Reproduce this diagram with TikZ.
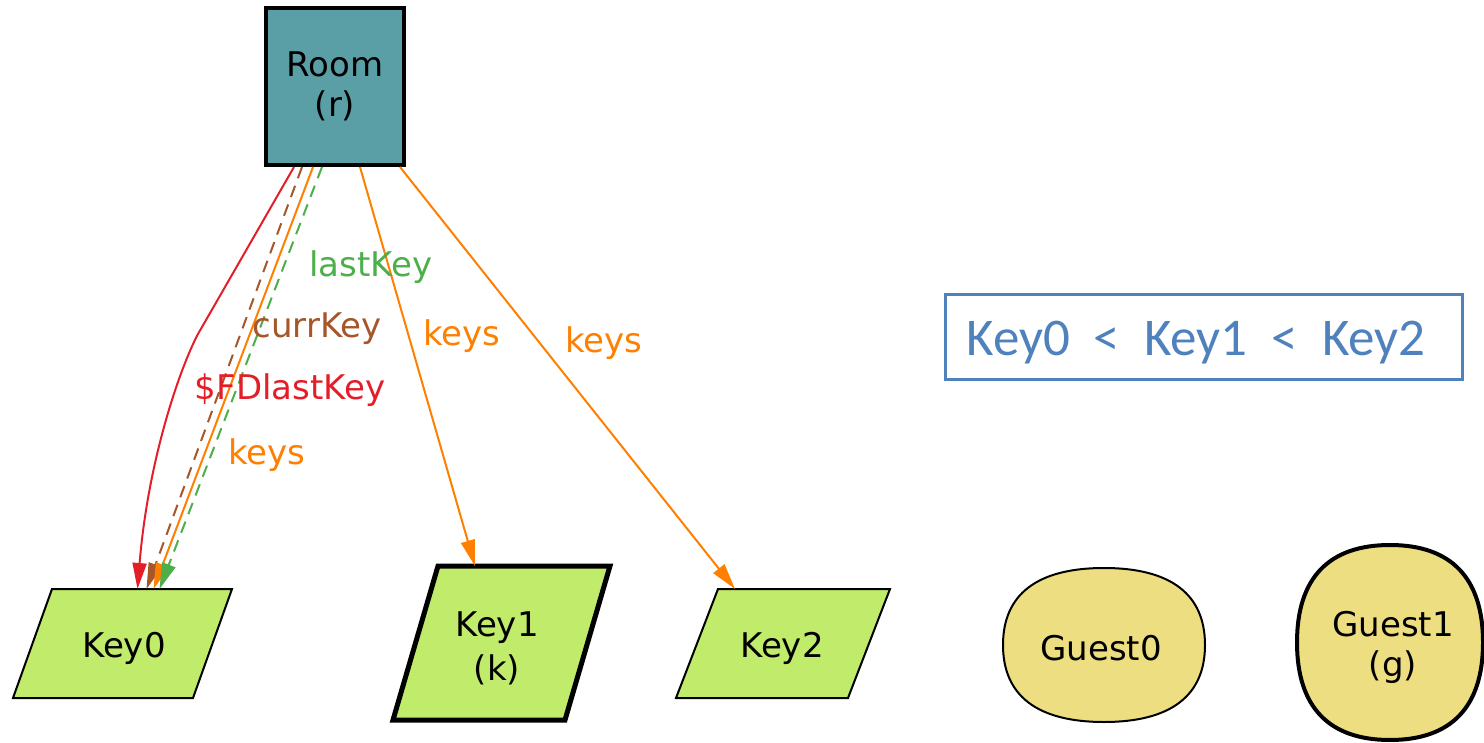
\documentclass[tikz,border=0pt]{standalone}
\usepackage{fontspec}
\setmainfont{DejaVu Sans}
\newfontfamily\boxfont{Carlito}
\usetikzlibrary{arrows.meta,calc,backgrounds}
\definecolor{roomfill}{RGB}{90,158,166}
\definecolor{keyfill}{RGB}{192,235,107}
\definecolor{guestfill}{RGB}{237,222,130}
\definecolor{ered}{RGB}{228,30,40}
\definecolor{ebrown}{RGB}{166,86,40}
\definecolor{eorange}{RGB}{255,127,0}
\definecolor{egreen}{RGB}{77,175,74}
\definecolor{noteblue}{RGB}{79,129,189}
\tikzset{
  lbl/.style={font=\fontsize{17}{20}\selectfont, inner sep=0pt, anchor=base},
  ntext/.style={font=\fontsize{17}{20}\selectfont, align=center, inner sep=0pt},
  shapebox/.style={inner sep=0pt, outer sep=0pt},
  keypoly/.style={draw=black, fill=keyfill, line width=1pt, line join=miter},
  guestpoly/.style={draw=black, fill=guestfill, line width=1pt},
  edge/.style={line width=1pt, -{Triangle[length=13pt,width=7pt]}},
  dashedge/.style={edge, dash pattern=on 6pt off 4pt}
}
\begin{document}
\begin{tikzpicture}[x=0.5pt,y=-0.5pt]
\useasboundingbox (0,0) rectangle (1484,743);

% Room
\node[ntext, draw=black, line width=2pt, fill=roomfill,
      minimum width=69pt, minimum height=78.5pt] (room) at (335,86.5) {Room\\(r)};

% Key shapes (anchor boxes) and their texts
\node[shapebox, minimum width=109.5pt, minimum height=54.5pt] (k0) at (122.5,643.5) {};
\node[shapebox, minimum width=108.5pt, minimum height=77pt] (k1) at (501.5,643) {};
\node[shapebox, minimum width=107pt, minimum height=54.5pt] (k2) at (783,643.5) {};
\draw[keypoly] ($(k0.north west)+(39,0)$) -- (k0.north east) -- ($(k0.south east)+(-39,0)$) -- (k0.south west) -- cycle;
\draw[keypoly, line width=2.5pt] ($(k1.north west)+(45,0)$) -- (k1.north east) -- ($(k1.south east)+(-45,0)$) -- (k1.south west) -- cycle;
\draw[keypoly] ($(k2.north west)+(42,0)$) -- (k2.north east) -- ($(k2.south east)+(-42,0)$) -- (k2.south west) -- cycle;
\node[ntext] (k0t) at (124,648.6) {Key0};
\node[ntext, font=\fontsize{17}{22}\selectfont] (k1t) at (497,648) {Key1\\(k)};
\node[ntext] (k2t) at (782,648.6) {Key2};

% Guest shapes
\node[shapebox, minimum width=101pt, minimum height=77pt] (g0) at (1104,645) {};
\node[shapebox, minimum width=93pt, minimum height=97.5pt] (g1) at (1390,642.5) {};
\foreach \g/\lw in {g0/1pt, g1/2pt}{
  \draw[guestpoly, line width=\lw] (\g.north)
    .. controls ($(\g.north)!0.66!(\g.north east)$) and ($(\g.east)!0.66!(\g.north east)$) .. (\g.east)
    .. controls ($(\g.east)!0.66!(\g.south east)$) and ($(\g.south)!0.66!(\g.south east)$) .. (\g.south)
    .. controls ($(\g.south)!0.66!(\g.south west)$) and ($(\g.west)!0.66!(\g.south west)$) .. (\g.west)
    .. controls ($(\g.west)!0.66!(\g.north west)$) and ($(\g.north)!0.66!(\g.north west)$) .. (\g.north) -- cycle;
}
\node[ntext] (g0t) at (1101,648) {Guest0};
\node[ntext] (g1t) at (1393,647) {Guest1\\(g)};

% Note box
\node[draw=noteblue, line width=1.5pt, minimum width=258.5pt, minimum height=42.5pt, inner sep=0pt] (note) at (1203.5,337.5) {};
\node[anchor=base west, inner sep=0pt, text=noteblue, font=\boxfont\fontsize{26.5}{30}\selectfont] (notetext) at (966,356) {Key0~~<~~Key1~~<~~Key2};

% Edges to Key0
\draw[edge, ered] ($(room.south)+(-41,0)$) -- (198,334) .. controls (180,368) and (148,460) .. ($(k0.north)+(15,0)$);
\draw[dashedge, ebrown] ($(room.south)+(-33,0)$) -- ($(k0.north)+(24,0)$);
\draw[edge, eorange] ($(room.south)+(-22,0)$) -- ($(k0.north)+(31,0)$);
\draw[dashedge, egreen] ($(room.south)+(-13,0)$) -- ($(k0.north)+(37,0)$);
% Edges to Key1, Key2
\draw[edge, eorange] ($(room.south)+(25,0)$) -- ($(k1.north)+(-26.5,0)$);
\draw[edge, eorange] ($(room.south)+(65,0)$) -- ($(k2.north)+(-48,0)$);

% Edge labels
\node[lbl, text=egreen] (llast) at (371,277) {lastKey};
\node[lbl, text=ebrown] (lcurr) at (317,338) {currKey};
\node[lbl, text=ered] (lfd) at (290,400) {\$FDlastKey};
\node[lbl, text=eorange] (lk0) at (267,464) {keys};
\node[lbl, text=eorange] (lk1) at (462,346) {keys};
\node[lbl, text=eorange] (lk2) at (604,353) {keys};
\end{tikzpicture}
\end{document}
